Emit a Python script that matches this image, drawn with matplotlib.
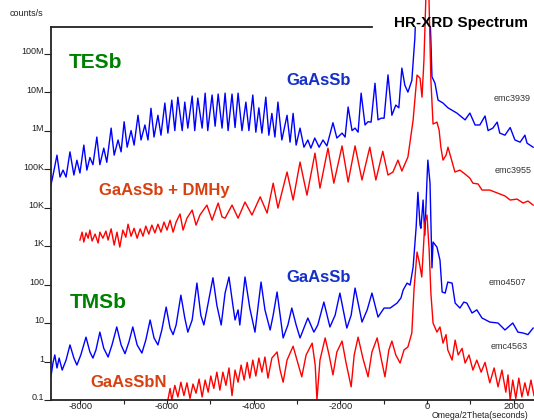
import numpy as np
import matplotlib
matplotlib.use("Agg")
import matplotlib.pyplot as plt
import matplotlib.transforms as mtransforms

plt.rcParams['font.family'] = ['Liberation Sans', 'DejaVu Sans']

##########
## DATA ##
##########

# TESb GaAsSb (emc3939) - Omega/2Theta (s), counts/s
emc3939_x = [-8680, -8630, -8540, -8470, -8400, -8330, -8240, -8150, -8080, -8010,
             -7920, -7850, -7780, -7710, -7620, -7550, -7460, -7390, -7290, -7220,
             -7130, -7060, -6990, -6920, -6830, -6760, -6670, -6600, -6510, -6440,
             -6370, -6300, -6210, -6140, -6050, -5980, -5890, -5820, -5750, -5650,
             -5590, -5520, -5420, -5360, -5290, -5190, -5120, -5060, -4960, -4890,
             -4820, -4730, -4660, -4590, -4500, -4430, -4360, -4270, -4180, -4110,
             -4020, -3950, -3880, -3810, -3720, -3650, -3580, -3510, -3440, -3350,
             -3230, -3160, -3090, -3020, -2930, -2840, -2750, -2680, -2590, -2490,
             -2400, -2310, -2170, -2080, -1960, -1890, -1820, -1730, -1660, -1590,
             -1520, -1430, -1360, -1290, -1200, -1130, -1060, -990, -900, -810,
             -720, -650, -580, -510, -440, -350, -300, -280, -250, 60,
             90, 115, 185, 255, 370, 485, 690, 880, 990, 1110,
             1220, 1340, 1410, 1520, 1620, 1680, 1800, 1920, 2030, 2150,
             2260, 2310, 2450]
emc3939_y = [3.8e4, 7.0e4, 2.3e5, 6.2e4, 9.4e4, 6.2e4, 2.8e5, 7.0e4, 1.7e5, 7.9e4,
             4.2e5, 9.4e4, 2.0e5, 1.3e5, 6.8e5, 1.3e5, 3.5e5, 1.5e5, 1.16e6, 2.3e5,
             5.7e5, 2.8e5, 1.7e6, 3.7e5, 1.0e6, 4.2e5, 2.5e6, 5.7e5, 1.4e6, 5.7e5,
             3.8e6, 6.8e5, 2.5e6, 7.6e5, 5.2e6, 8.6e5, 6.2e6, 1.0e6, 7.4e6, 1.0e6,
             5.5e6, 1.16e6, 7.9e6, 1.0e6, 7.0e6, 1.16e6, 9.4e6, 1.0e6, 8.4e6, 1.3e6,
             8.9e6, 1.16e6, 9.4e6, 1.0e6, 8.9e6, 1.2e6, 9.4e6, 1.0e6, 5.5e6, 1.0e6,
             8.4e6, 9.1e5, 3.9e6, 8.6e5, 7.4e6, 7.6e5, 2.8e6, 6.8e5, 5.5e6, 5.7e5,
             2.5e6, 5.0e5, 2.8e6, 4.2e5, 1.16e6, 3.7e5, 5.7e5, 3.5e5, 6.4e5, 3.7e5,
             5.7e5, 4.0e5, 1.6e6, 6.4e5, 8.6e5, 6.8e5, 4.1e6, 1.0e6, 1.16e6, 9.1e5,
             9.4e6, 1.4e6, 1.7e6, 1.66e6, 1.7e7, 1.9e6, 2.1e6, 2.1e6, 2.8e7, 2.5e6,
             4.6e6, 3.9e6, 4.2e7, 1.5e7, 1.0e7, 2.0e7, 1.2e8, 2.5e8, 2.0e9, 2.0e9,
             2.2e8, 2.5e7, 1.7e7, 6.2e6, 5.2e6, 3.9e6, 2.85e6, 1.9e6, 2.85e6, 1.4e6,
             1.4e6, 2.4e6, 1.0e6, 1.16e6, 1.66e6, 8.6e5, 7.6e5, 1.2e6, 5.7e5, 5.0e5,
             7.6e5, 4.7e5, 3.7e5]

# TESb GaAsSb + DMHy (emc3955)
emc3955_x = [-8010, -7960, -7920, -7870, -7820, -7780, -7730, -7660, -7590, -7550,
             -7480, -7410, -7360, -7290, -7220, -7155, -7090, -7020, -6950, -6900,
             -6830, -6760, -6690, -6620, -6555, -6490, -6420, -6350, -6280, -6210,
             -6140, -6070, -6000, -5930, -5860, -5790, -5700, -5630, -5540, -5420,
             -5330, -5240, -5080, -4960, -4820, -4730, -4660, -4500, -4360, -4200,
             -4040, -3850, -3690, -3550, -3440, -3230, -3090, -2930, -2770, -2585,
             -2470, -2285, -2150, -1960, -1820, -1660, -1500, -1320, -1180, -1020,
             -900, -785, -670, -580, -440, -320, -230, -160, -115, -70,
             -25, 45, 90, 140, 230, 280, 320, 370, 440, 485,
             555, 645, 760, 880, 990, 1060, 1180, 1270, 1450, 1620,
             1800, 1920, 2080, 2220, 2330, 2450]
emc3955_y = [1.43e3, 2.3e3, 1.27e3, 2.2e3, 1.6e3, 2.6e3, 1.35e3, 2.05e3, 1.2e3, 2.3e3,
             1.6e3, 2.45e3, 1.43e3, 2.8e3, 1.06e3, 2.3e3, 9.4e2, 2.6e3, 1.7e3, 3.7e3,
             1.8e3, 2.9e3, 1.6e3, 2.8e3, 1.8e3, 3.3e3, 2.05e3, 3.5e3, 2.2e3, 3.7e3,
             2.3e3, 4.2e3, 2.6e3, 4.7e3, 2.3e3, 4.2e3, 6.8e3, 2.6e3, 5.3e3, 8.6e3,
             3.5e3, 6.4e3, 1.16e4, 4.7e3, 1.31e4, 5.7e3, 5.3e3, 1.16e4, 5.3e3, 1.39e4,
             6.4e3, 1.9e4, 7.2e3, 4.3e4, 9.7e3, 8.4e4, 1.57e4, 1.52e5, 2.1e4, 2.6e5,
             3.2e4, 3.5e5, 4.3e4, 4.0e5, 4.6e4, 4.0e5, 5.2e4, 3.7e5, 5.2e4, 2.9e5,
             7.0e4, 8.4e4, 1.71e5, 8.9e4, 2.05e5, 1.88e6, 2.77e7, 2.3e7, 7.4e6, 6.8e7,
             3.0e9, 3.0e9, 2.05e7, 1.48e6, 1.66e6, 1.03e6, 3.7e5, 1.71e5, 2.3e5, 3.7e5,
             1.93e5, 8.4e4, 9.4e4, 7.4e4, 5.8e4, 4.3e4, 4.1e4, 2.85e4, 2.85e4, 2.4e4,
             2.0e4, 1.57e4, 1.66e4, 1.31e4, 1.48e4, 1.16e4]

# TMSb GaAsSb (emo4507)
emo4507_x = [-8680, -8630, -8590, -8540, -8490, -8420, -8330, -8240, -8150, -8080,
             -7990, -7870, -7780, -7710, -7640, -7550, -7460, -7360, -7270, -7160,
             -7060, -6970, -6880, -6790, -6690, -6580, -6490, -6390, -6300, -6210,
             -6120, -6020, -5930, -5860, -5790, -5680, -5590, -5520, -5420, -5310,
             -5220, -5150, -5080, -4940, -4850, -4750, -4660, -4570, -4480, -4430,
             -4360, -4320, -4200, -4090, -3970, -3830, -3740, -3620, -3550, -3460,
             -3320, -3210, -3120, -3020, -2930, -2750, -2610, -2520, -2380, -2240,
             -2120, -2010, -1850, -1750, -1660, -1500, -1380, -1270, -1130, -990,
             -850, -690, -600, -550, -460, -390, -320, -250, -210, -160,
             -140, -90, -50, 0, 20, 70, 115, 140, 230, 300,
             350, 420, 480, 580, 650, 760, 850, 920, 1040, 1150,
             1270, 1450, 1640, 1800, 1980, 2100, 2220, 2330, 2450]
emo4507_y = [0.40, 0.95, 1.48, 0.68, 1.23, 0.60, 1.09, 2.7, 1.23, 0.81,
             1.48, 4.3, 1.77, 1.23, 2.0, 5.8, 2.2, 1.31, 2.7, 7.9,
             2.7, 1.6, 3.2, 7.9, 2.7, 1.66, 3.6, 12, 4.1, 2.7,
             6.6, 26, 7.4, 5.0, 8.9, 53, 13.5, 5.8, 12, 109,
             16, 8.9, 22, 150, 29, 8.9, 60, 157, 29, 12,
             22, 8.9, 157, 24.5, 5.8, 116, 22, 6.6, 16, 64,
             4.1, 8.9, 24.5, 8.9, 4.1, 13.5, 5.8, 8.9, 35, 7.9,
             16, 60, 7.4, 16, 81, 10.6, 22, 60, 14.3, 24.5,
             24.5, 33, 45, 72, 109, 97, 285, 3.1e3, 2.5e4, 3.5e3,
             2.9e3, 1.57e4, 1.9e3, 5.2e4, 1.71e5, 4.3e4, 270, 1.27e3, 940, 430,
             64, 60, 116, 109, 33, 24.5, 35, 33, 18.2, 22,
             13.5, 10.6, 10, 6.6, 10, 5.8, 5.5, 5.0, 7.4]

# TMSb GaAsSbN (emc4563)
emc4563_x = [-5980, -5930, -5890, -5820, -5750, -5680, -5610, -5540, -5470, -5400,
             -5330, -5260, -5190, -5120, -5050, -4990, -4920, -4850, -4780, -4710,
             -4640, -4570, -4500, -4430, -4360, -4290, -4220, -4150, -4090, -4020,
             -3950, -3880, -3810, -3740, -3670, -3580, -3460, -3390, -3320, -3230,
             -3090, -3000, -2890, -2790, -2650, -2580, -2540, -2470, -2350, -2260,
             -2170, -2080, -1960, -1870, -1750, -1680, -1590, -1480, -1360, -1270,
             -1150, -1060, -970, -880, -810, -720, -620, -530, -440, -350,
             -300, -230, -180, -120, -50, 0, 50, 90, 140, 230,
             300, 370, 440, 480, 580, 650, 720, 810, 880, 970,
             1060, 1150, 1250, 1340, 1450, 1550, 1640, 1730, 1820, 1870,
             1920, 1980, 2050, 2120, 2190, 2260, 2330, 2400, 2470]
emc4563_y = [0.10, 0.20, 0.10, 0.24, 0.12, 0.29, 0.13, 0.28, 0.11, 0.26,
             0.15, 0.35, 0.12, 0.33, 0.16, 0.42, 0.20, 0.53, 0.18, 0.53,
             0.24, 0.68, 0.13, 0.60, 0.29, 0.81, 0.33, 0.95, 0.37, 1.09,
             0.42, 1.23, 0.53, 1.31, 0.37, 1.23, 1.77, 0.60, 0.29, 1.09,
             2.5, 1.09, 0.40, 1.48, 3.0, 0.81, 0.10, 1.09, 4.1, 1.48,
             0.45, 1.77, 3.4, 0.95, 0.22, 1.48, 4.3, 1.23, 0.40, 1.77,
             4.1, 1.23, 0.40, 2.0, 3.4, 1.48, 0.91, 2.0, 2.4, 5.5,
             72, 700, 390, 157, 4.0e3, 6.4e3, 790, 60, 10, 5.8,
             7.9, 3.0, 5.0, 2.0, 1.09, 3.6, 1.48, 2.2, 0.91, 1.48,
             0.60, 1.09, 0.53, 0.95, 0.28, 0.68, 0.22, 0.60, 0.16, 0.45,
             0.10, 0.33, 0.11, 0.37, 0.12, 0.28, 0.13, 0.33, 0.13]

ytick_vals = [0.1, 1, 10, 100, 1e3, 1e4, 1e5, 1e6, 1e7, 1e8]
ytick_labels = ['0.1', '1', '10', '100', '1K', '10K', '100K', '1M', '10M', '100M']
xtick_major = [-8000, -6000, -4000, -2000, 0, 2000]
xtick_minor = [-7000, -5000, -3000, -1000, 1000]

############
## FIGURA ##
############

fig = plt.figure(figsize=(5.34, 4.2), dpi=100)
ax = fig.add_axes([0.0955, 0.0476, 0.9045, 0.888])

azul = '#0000FF'
rojo = '#FF0000'

ax.plot(emc3939_x, emc3939_y, color=azul, lw=1.0)
ax.plot(emc3955_x, emc3955_y, color=rojo, lw=1.0, clip_on=False)
ax.plot(emo4507_x, emo4507_y, color=azul, lw=1.0)
ax.plot(emc4563_x, emc4563_y, color=rojo, lw=1.0)

ax.set_yscale('log')
ax.set_xlim(-8678, 2470)
ax.set_ylim(0.1, 4.9e8)

# ejes
ax.spines['right'].set_visible(False)
ax.spines['top'].set_bounds(-8678, -1270)
for s in ['left', 'bottom', 'top']:
    ax.spines[s].set_color('#222222')
    ax.spines[s].set_linewidth(1.3)

ax.set_yticks(ytick_vals)
ax.set_yticklabels(ytick_labels, fontsize=6.5)
ax.yaxis.set_minor_locator(matplotlib.ticker.NullLocator())
ax.tick_params(axis='y', direction='out', length=5, width=0.8, pad=0, colors='#222222')
offset = mtransforms.ScaledTranslation(0, 2.2 / 72, fig.dpi_scale_trans)
for lab in ax.get_yticklabels():
    lab.set_transform(lab.get_transform() + offset)

ax.set_xticks(xtick_major)
ax.set_xticks(xtick_minor, minor=True)
ax.set_xticklabels([str(v) for v in xtick_major], fontsize=6.8)
ax.tick_params(axis='x', which='both', direction='out', length=3, width=0.8, pad=0.5, colors='#222222')
offx = mtransforms.ScaledTranslation(0, 2.2 / 72, fig.dpi_scale_trans)
for lab in ax.get_xticklabels():
    lab.set_transform(lab.get_transform() + offx)

# textos
verde = '#008000'
azul_txt = '#1530C8'
naranja = '#D8400F'
ax.text(-7640, 6.0e7, 'TESb', color=verde, fontsize=15, fontweight='bold', ha='center', va='center')
ax.text(-2490, 1.95e7, 'GaAsSb', color=azul_txt, fontsize=12, fontweight='bold', ha='center', va='center')
ax.text(-6060, 2.7e4, 'GaAsSb + DMHy', color=naranja, fontsize=12, fontweight='bold', ha='center', va='center')
ax.text(-7590, 35, 'TMSb', color=verde, fontsize=15, fontweight='bold', ha='center', va='center')
ax.text(-2490, 155, 'GaAsSb', color=azul_txt, fontsize=12, fontweight='bold', ha='center', va='center')
ax.text(-6880, 0.28, 'GaAsSbN', color=naranja, fontsize=12, fontweight='bold', ha='center', va='center')

ax.text(1960, 7.0e6, 'emc3939', fontsize=6.5, color='#333333', ha='center', va='center')
ax.text(1985, 9.4e4, 'emc3955', fontsize=6.5, color='#333333', ha='center', va='center')
ax.text(1850, 116, 'emo4507', fontsize=6.5, color='#333333', ha='center', va='center')
ax.text(1890, 2.4, 'emc4563', fontsize=6.5, color='#333333', ha='center', va='center')

fig.text(0.989, 0.945, 'HR-XRD Spectrum', fontsize=11, fontweight='bold', ha='right', va='center')
fig.text(10 / 534, 1 - 14 / 420, 'counts/s', fontsize=6.5, color='#222222', ha='left', va='center')
fig.text(432 / 534, 0.0, 'Omega/2Theta(seconds)', fontsize=6.3, color='#222222', ha='left', va='bottom')

fig.savefig('out.png', dpi=100)
